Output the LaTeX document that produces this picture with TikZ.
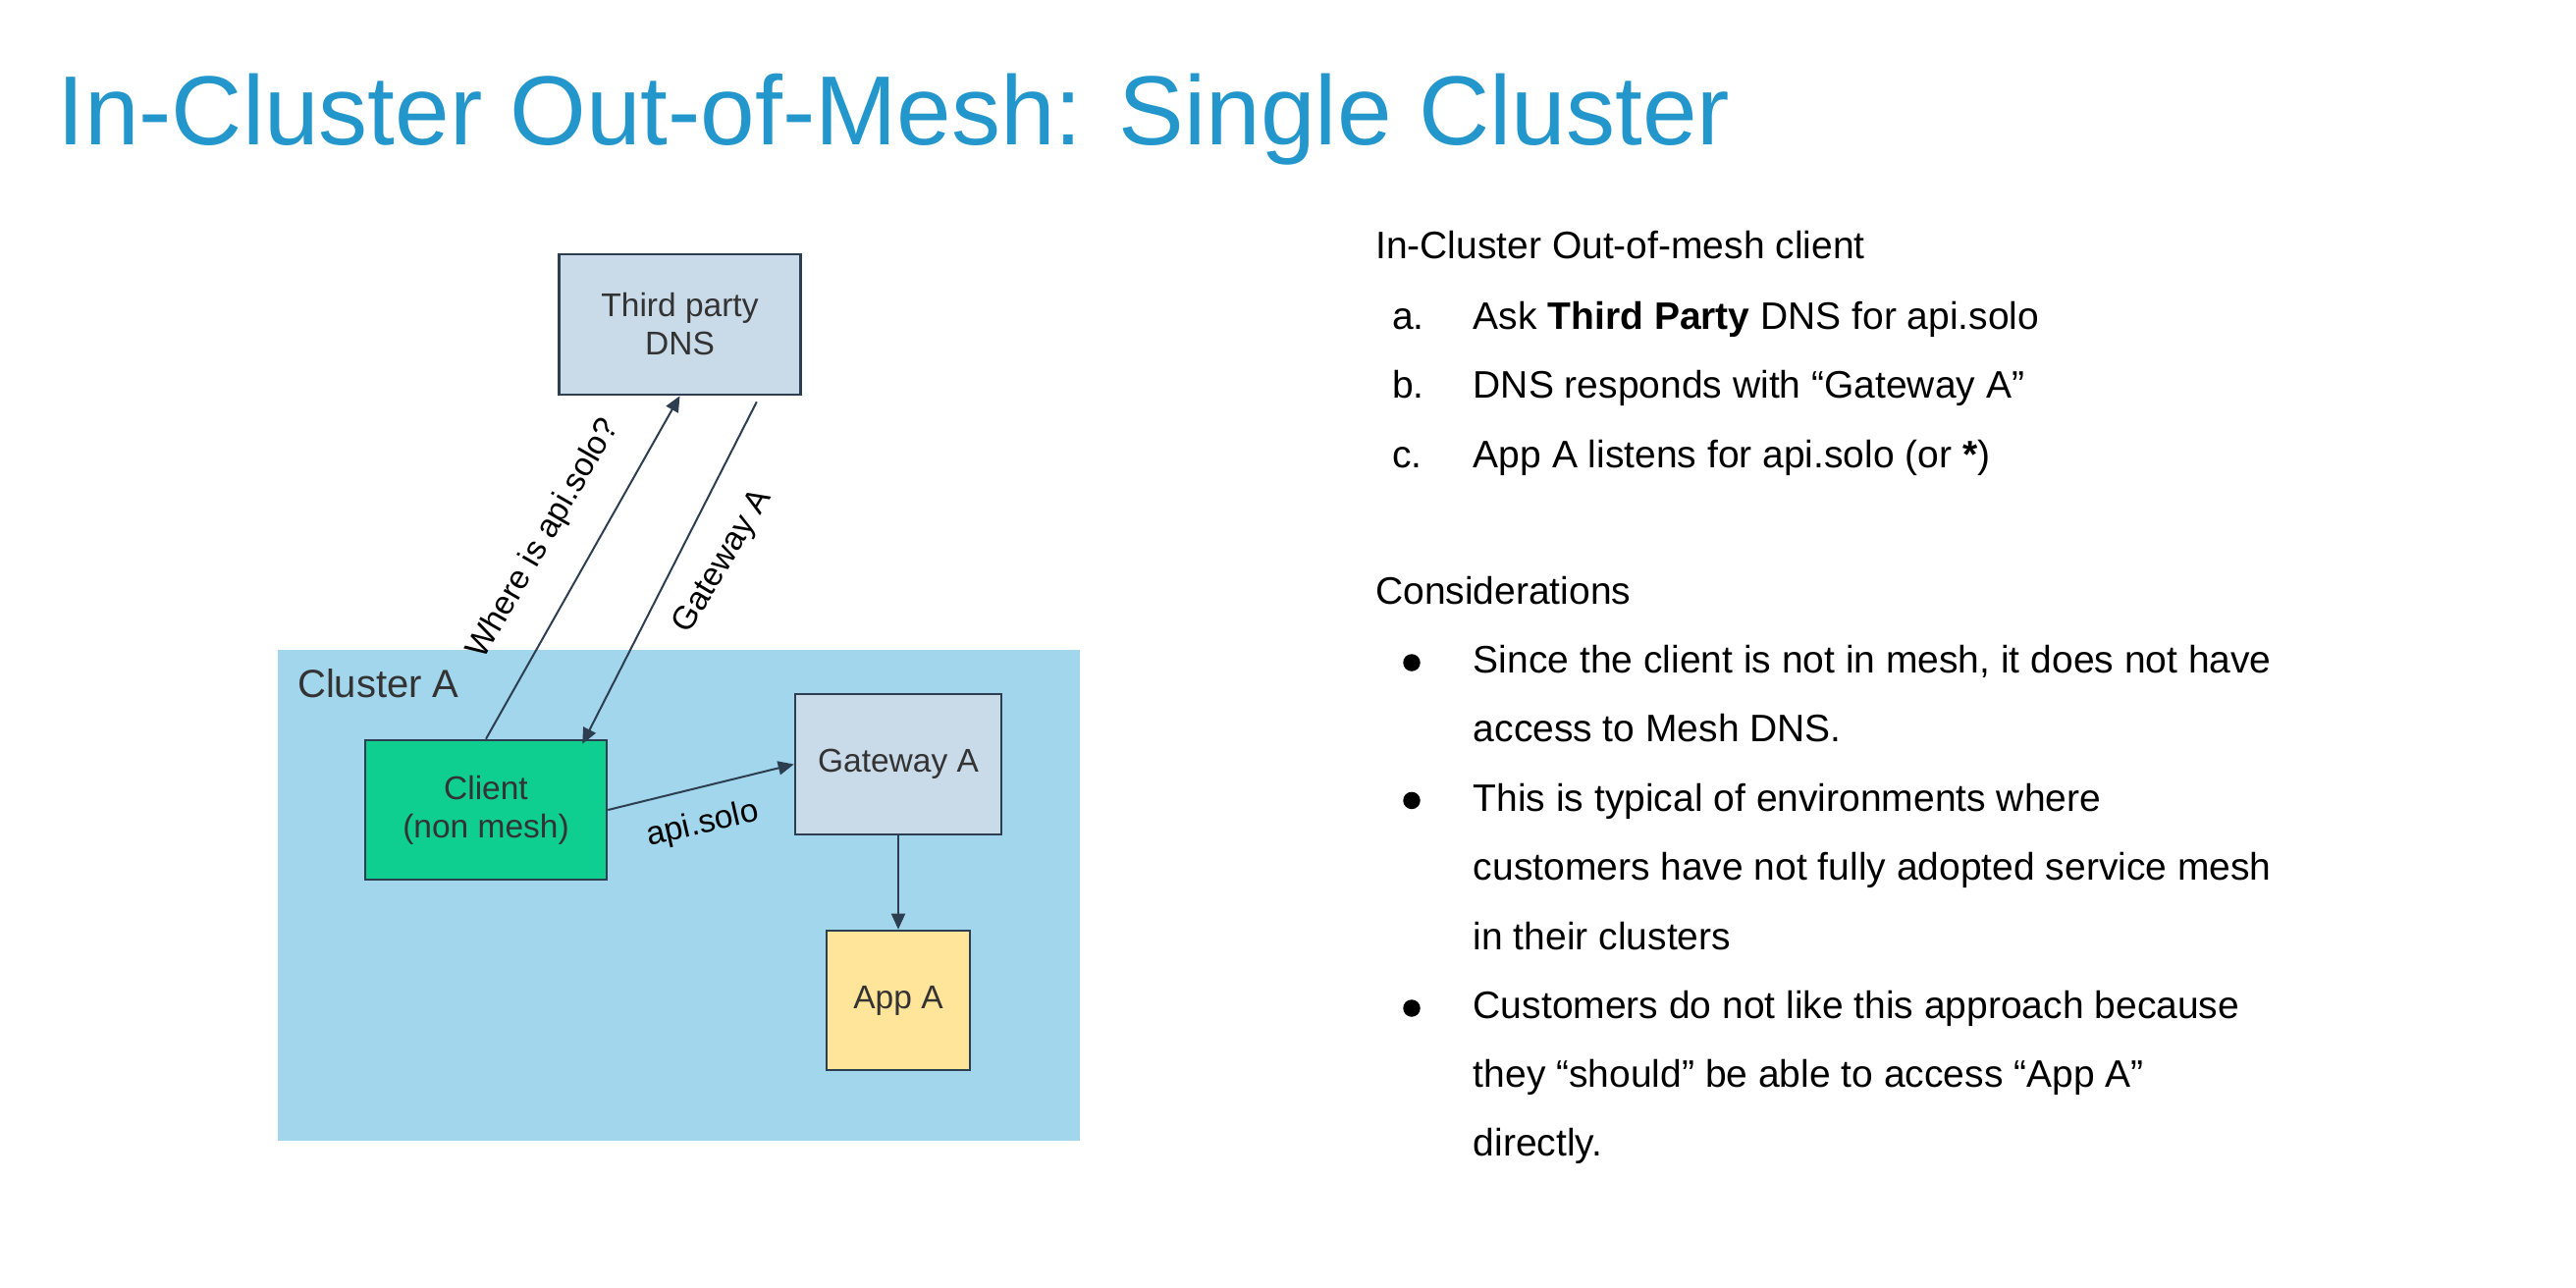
\documentclass[tikz,border=0pt]{standalone}
\usepackage{fontspec}
\setmainfont{Liberation Sans}
\usetikzlibrary{arrows.meta}
\definecolor{titleblue}{RGB}{35,150,203}
\definecolor{edgecol}{RGB}{44,62,80}
\definecolor{clusterfill}{RGB}{162,214,236}
\definecolor{boxfill}{RGB}{201,218,232}
\definecolor{clientfill}{RGB}{14,207,143}
\definecolor{appfill}{RGB}{255,229,153}
\definecolor{ink}{RGB}{51,51,51}
\begin{document}
\begin{tikzpicture}[x=1pt,y=-1pt,
  box/.style={draw=edgecol, line width=2.6pt, inner sep=0pt, align=center, text=ink,
    font=\fontsize{33.5}{39}\selectfont},
  flow/.style={draw=edgecol, line width=2pt, -{Triangle[length=16pt,width=14pt]}},
  lbl/.style={font=\fontsize{33.5}{39}\selectfont, text=black, inner sep=0pt},
  body/.style={font=\fontsize{39}{47}\selectfont, anchor=base west, inner sep=0pt, text=black},
  dot/.style={circle, fill=black, inner sep=0pt, minimum size=17.5pt}]

\useasboundingbox (0,0) rectangle (2624,1312);

% title
\node[anchor=base west, inner sep=0pt, text=titleblue, font=\fontsize{100}{120}\selectfont]
  (title) at (58,147) {In-Cluster Out-of-Mesh: Single Cluster};

% cluster area
\fill[clusterfill] (283,662) rectangle (1100,1162);
\node[anchor=base west, inner sep=0pt, text=ink, font=\fontsize{40}{48}\selectfont]
  (clusterlbl) at (303,710) {Cluster A};

% boxes
\node[box, fill=boxfill, minimum width=246pt, minimum height=143pt] (dns) at (692.5,330.5)
  {Third party\\DNS};
\node[box, fill=clientfill, minimum width=246pt, minimum height=142pt] (client) at (495,825)
  {Client\\(non mesh)};
\node[box, fill=boxfill, minimum width=210pt, minimum height=143pt] (gw) at (915,778.5)
  {Gateway A};
\node[box, fill=appfill, minimum width=146pt, minimum height=142pt] (app) at (915,1019)
  {App A};

% connectors
\coordinate (gwstart) at ([xshift=-46pt,yshift=-6pt]dns.south east);
\coordinate (gwend) at ([xshift=-26pt,yshift=-5pt]client.north east);
\draw[flow] (client.north) -- (dns.south);
\draw[flow] (gwstart) -- (gwend);
\draw[flow] (client.east) -- (gw.west);
\draw[flow] (gw.south) -- (app.north);

% connector labels
\node[lbl, rotate=60] (askl) at (554,549) {Where is api.solo?};
\node[lbl, rotate=59] (ansl) at (737,572) {Gateway A};
\node[lbl, rotate=13] (apil) at (716,840) {api.solo};

% notes
\node[body] (h1) at (1401,263.75) {In-Cluster Out-of-mesh client};
\node[body] (la) at (1418,335.6) {a.};
\node[body] (ta) at (1500.6,335.6) {Ask \textbf{Third Party} DNS for api.solo};
\node[body] (lb) at (1418,405.6) {b.};
\node[body] (tb) at (1500.6,405.6) {DNS responds with “Gateway A”};
\node[body] (lc) at (1418,476) {c.};
\node[body] (tc) at (1500.6,476) {App A listens for api.solo (or \textbf{*})};

\node[body] (h2) at (1401,615.6) {Considerations};
\node[dot] (d1) at (1438,675) {};
\node[body] (t1a) at (1500.6,685.6) {Since the client is not in mesh, it does not have};
\node[body] (t1b) at (1500.6,755.6) {access to Mesh DNS.};
\node[dot] (d2) at (1438,815.4) {};
\node[body] (t2a) at (1500.6,826) {This is typical of environments where};
\node[body] (t2b) at (1500.6,896) {customers have not fully adopted service mesh};
\node[body] (t2c) at (1500.6,967) {in their clusters};
\node[dot] (d3) at (1438,1027) {};
\node[body] (t3a) at (1500.6,1037.5) {Customers do not like this approach because};
\node[body] (t3b) at (1500.6,1107.5) {they “should” be able to access “App A”};
\node[body] (t3c) at (1500.6,1177.5) {directly.};
\end{tikzpicture}
\end{document}
